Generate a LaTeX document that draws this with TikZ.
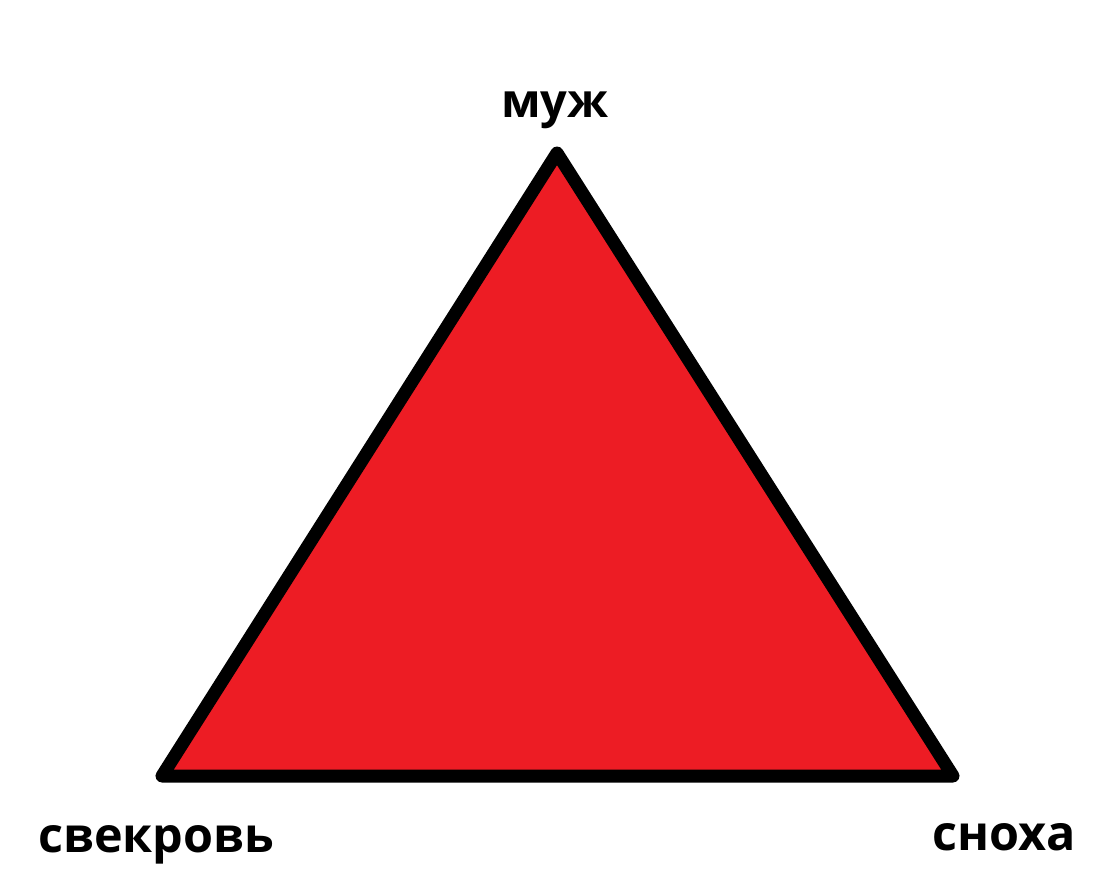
\documentclass[tikz,border=0pt]{standalone}
\usepackage{fontspec}
\setmainfont{Open Sans}
\definecolor{paintred}{HTML}{ED1C24}
\begin{document}
\begin{tikzpicture}[x=1pt,y=-1pt,
  lbl/.style={inner sep=0pt,font=\bfseries\fontsize{47}{56}\selectfont},
  lblb/.style={inner sep=0pt,font=\bfseries\fontsize{48.5}{58}\selectfont}]
\useasboundingbox (0,0) rectangle (1109,892);
\coordinate (top) at (557,153);
\coordinate (left) at (162,776);
\coordinate (right) at (953,776);
\draw[line width=13pt,line join=round,fill=paintred] (top) -- (left) -- (right) -- cycle;
\node[lbl,anchor=base] (muzh) at (555,117) {муж};
\node[lblb,anchor=base west] (svek) at (38,852) {свекровь};
\node[lblb,anchor=base west] (snoha) at (932,850) {сноха};
\end{tikzpicture}
\end{document}
